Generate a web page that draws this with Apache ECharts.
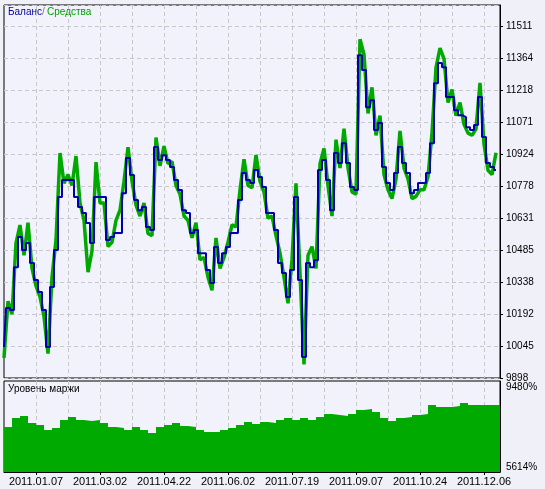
<!DOCTYPE html>
<html>
<head>
<meta charset="utf-8">
<script src="https://cdn.jsdelivr.net/npm/echarts@6/dist/echarts.min.js"></script>
<style>
  html, body { margin: 0; padding: 0; background: #f0f0f8; }
  #chart { width: 545px; height: 489px; }
</style>
</head>
<body>
<div id="chart"></div>
<script>
// one point every 4 px of the original plot
const BALANCE = [
  10040, 10219, 10209, 10406, 10544, 10484, 10516, 10425, 10347, 10292, 10209, 10040, 10315, 10484, 10727, 10805,
  10805, 10805, 10727, 10681, 10654, 10608, 10516, 10727, 10727, 10727, 10530, 10544, 10562, 10562, 10745, 10906,
  10828, 10713, 10667, 10681, 10590, 10576, 10956, 10897, 10919, 10897, 10865, 10805, 10759, 10667, 10654, 10562,
  10576, 10470, 10470, 10393, 10333, 10498, 10425, 10470, 10498, 10562, 10562, 10713, 10837, 10805, 10791, 10851,
  10819, 10773, 10654, 10654, 10576, 10425, 10379, 10269, 10393, 10727, 10347, 9994, 10425, 10406, 10438, 10851,
  10897, 10805, 10667, 10929, 10883, 10974, 10883, 10773, 10759, 11377, 11309, 11139, 11171, 11034, 11066, 10865,
  10791, 10759, 10837, 10956, 10883, 10837, 10745, 10759, 10791, 10791, 10837, 10974, 11249, 11341, 11322, 11185,
  11185, 11125, 11102, 11093, 11047, 11034, 11057, 11185, 11002, 10883, 10865, 10851
]
const EQUITY = [
  9990, 10250, 10190, 10516, 10599, 10460, 10610, 10400, 10320, 10270, 10180, 10010, 10360, 10530, 10929, 10790,
  10830, 10780, 10915, 10700, 10620, 10383, 10480, 10887, 10700, 10700, 10500, 10520, 10620, 10667, 10800, 10956,
  10800, 10690, 10640, 10700, 10560, 10550, 11000, 10870, 10960, 10880, 10890, 10780, 10740, 10640, 10620, 10540,
  10610, 10440, 10450, 10360, 10300, 10540, 10400, 10450, 10520, 10600, 10590, 10760, 10900, 10780, 10770, 10920,
  10800, 10750, 10630, 10640, 10550, 10470, 10360, 10240, 10440, 10790, 10380, 9960, 10460, 10500, 10400, 10880,
  10950, 10780, 10640, 10990, 10860, 11040, 10860, 10750, 10740, 11450, 11380, 11110, 11230, 11010, 11100, 10830,
  10760, 10720, 10810, 11030, 10860, 10810, 10720, 10730, 10760, 10760, 10820, 11020, 11320, 11410, 11360, 11160,
  11220, 11100, 11160, 11060, 11020, 11010, 11040, 11250, 10970, 10850, 10830, 10930
]
// margin level, one value every 8 px
const MARGIN = [
  7527, 7909, 7994, 7697, 7612, 7399, 7484, 7824, 7952, 7824, 7782, 7824, 7697, 7527, 7484, 7399,
  7527, 7399, 7272, 7527, 7612, 7697, 7569, 7527, 7399, 7314, 7314, 7399, 7484, 7612, 7739, 7654,
  7739, 7697, 7824, 7909, 7824, 7909, 7824, 7952, 8079, 8037, 7994, 8079, 8249, 8292, 8164, 7909,
  7782, 7909, 7952, 8037, 8079, 8462, 8377, 8377, 8419, 8547, 8462, 8462, 8462, 8462, 8462
]
const DATE_LABELS = ['2011.01.07', '2011.03.02', '2011.04.22', '2011.06.02', '2011.07.19', '2011.09.07', '2011.10.24', '2011.12.06']
const Y_LABELS = [9898, 10045, 10192, 10338, 10485, 10631, 10778, 10924, 11071, 11218, 11364, 11511]
const MARGIN_LABELS = [5614, 9480]

const N = 125
const cats = []
for (let i = 0; i < N; i++) cats.push(i % 16 === 8 ? DATE_LABELS[(i - 8) / 16] || '' : '')

const nearestLabel = (v) => {
  let best = Y_LABELS[0]
  for (const l of Y_LABELS) if (Math.abs(l - v) < Math.abs(best - v)) best = l
  return String(best)
}

const gridLine = { show: true, lineStyle: { color: '#c8c8c8', type: [4, 3], width: 1 } }
const font = { fontFamily: 'Liberation Sans', fontSize: 11, color: '#000' }

const chart = echarts.init(document.getElementById('chart'))
chart.setOption({
  animation: false,
  backgroundColor: '#f0f0f8',
  grid: [
    { left: 4, right: 45, top: 5, height: 373, show: true, borderColor: '#000', borderWidth: 1, backgroundColor: '#f2f2fc' },
    { left: 4, right: 45, top: 381, height: 91, show: true, borderColor: '#000', borderWidth: 1, backgroundColor: '#f2f2fc' },
  ],
  graphic: [
    { type: 'text', left: 8, top: 7, style: { text: 'Баланс', fill: '#0000a0', font: '10px Liberation Sans' } },
    { type: 'text', left: 42, top: 7, style: { text: '/', fill: '#808080', font: '10px Liberation Sans' } },
    { type: 'text', left: 47, top: 7, style: { text: 'Средства', fill: '#00a000', font: '10px Liberation Sans' } },
    { type: 'text', left: 8, top: 384, style: { text: 'Уровень маржи', fill: '#000', font: '10px Liberation Sans' } },
  ],
  xAxis: [
    { type: 'category', gridIndex: 0, data: cats, boundaryGap: false,
      axisLine: { show: false }, axisTick: { show: false }, axisLabel: { show: false },
      splitLine: { ...gridLine, interval: (i) => i % 8 === 0 && i > 0 } },
    { type: 'category', gridIndex: 1, data: cats, boundaryGap: false,
      axisLine: { show: true, lineStyle: { color: '#000' } },
      axisTick: { show: true, length: 3, interval: (i) => i % 16 === 8, lineStyle: { color: '#000' } },
      axisLabel: { ...font, margin: 4, interval: (i) => i % 16 === 8 },
      splitLine: { ...gridLine, interval: (i) => i % 8 === 0 && i > 0 } },
  ],
  yAxis: [
    { type: 'value', gridIndex: 0, position: 'right', min: 9898, max: 11607, interval: 146.64,
      axisLine: { show: true, lineStyle: { color: '#000' } },
      axisTick: { show: true, length: 3, lineStyle: { color: '#000' } },
      axisLabel: { ...font, fontSize: 10, margin: 6, showMaxLabel: false, formatter: nearestLabel },
      splitLine: gridLine },
    { type: 'value', gridIndex: 1, position: 'right', min: MARGIN_LABELS[0], max: MARGIN_LABELS[1],
      interval: MARGIN_LABELS[1] - MARGIN_LABELS[0],
      axisLine: { show: true, lineStyle: { color: '#000' } }, axisTick: { show: false },
      axisLabel: { ...font, fontSize: 10, margin: 6,
        formatter: (v) => v >= MARGIN_LABELS[1] ? '{t|' + v + '%}' : '{b|' + v + '%}',
        rich: { t: { fontSize: 10, padding: [12, 0, 0, 0] }, b: { fontSize: 10, padding: [0, 0, 10, 0] } } },
      splitLine: { show: false } },
  ],
  series: [
    { name: 'Средства', type: 'line', xAxisIndex: 0, yAxisIndex: 0, data: EQUITY,
      symbol: 'none', lineStyle: { color: '#00a800', width: 3.5 } },
    { name: 'Баланс', type: 'line', xAxisIndex: 0, yAxisIndex: 0, data: BALANCE, step: 'middle',
      symbol: 'none', lineStyle: { color: '#0000b0', width: 2 } },
    { name: 'Уровень маржи', type: 'line', xAxisIndex: 1, yAxisIndex: 1, step: 'end',
      data: MARGIN.map((v, k) => [k * 2, v]),
      symbol: 'none', lineStyle: { width: 0 }, areaStyle: { color: '#00aa00', opacity: 1 } },
  ],
})
</script>
</body>
</html>
